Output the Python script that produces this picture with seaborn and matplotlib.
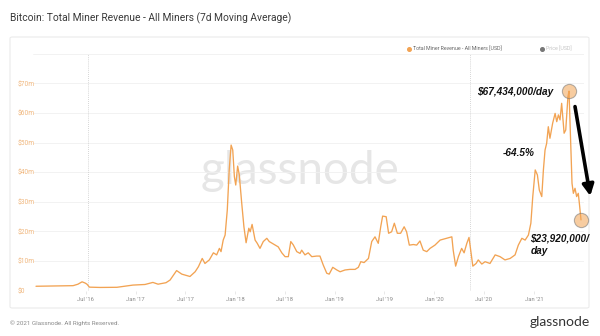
import matplotlib
matplotlib.use("Agg")
import matplotlib.pyplot as plt
from matplotlib.patches import FancyBboxPatch
from matplotlib.lines import Line2D
import pandas as pd
import seaborn as sns

# Total miner revenue, 7-day moving average, in millions of USD
dates = [
    "2016-01-01", "2016-03-11", "2016-05-16", "2016-06-03", "2016-06-18", "2016-06-29",
    "2016-07-06", "2016-07-15", "2016-08-23", "2016-10-24", "2016-12-22", "2017-02-04",
    "2017-03-05", "2017-03-24", "2017-04-22", "2017-05-07", "2017-05-31", "2017-06-19",
    "2017-07-12", "2017-07-19", "2017-08-07", "2017-08-19", "2017-09-02", "2017-09-12",
    "2017-09-28", "2017-10-13", "2017-10-25", "2017-11-04", "2017-11-10", "2017-11-18",
    "2017-11-25", "2017-12-03", "2017-12-10", "2017-12-17", "2017-12-23", "2017-12-29",
    "2018-01-03", "2018-01-10", "2018-01-16", "2018-01-25", "2018-02-02", "2018-02-10",
    "2018-02-20", "2018-02-25", "2018-03-04", "2018-03-15", "2018-03-23", "2018-04-02",
    "2018-04-14", "2018-04-27", "2018-05-06", "2018-05-15", "2018-05-27", "2018-06-08",
    "2018-06-21", "2018-07-03", "2018-07-15", "2018-07-24", "2018-08-02", "2018-08-15",
    "2018-08-27", "2018-09-02", "2018-09-14", "2018-09-26", "2018-10-09", "2018-10-27",
    "2018-11-08", "2018-11-20", "2018-12-03", "2018-12-12", "2018-12-25", "2019-01-09",
    "2019-01-21", "2019-02-08", "2019-02-26", "2019-03-17", "2019-03-29", "2019-04-07",
    "2019-04-19", "2019-05-05", "2019-05-17", "2019-05-29", "2019-06-10", "2019-06-19",
    "2019-06-26", "2019-07-09", "2019-07-18", "2019-07-29", "2019-08-08", "2019-08-19",
    "2019-08-31", "2019-09-13", "2019-09-22", "2019-10-02", "2019-10-17", "2019-10-29",
    "2019-11-10", "2019-11-22", "2019-12-05", "2019-12-17", "2020-01-04", "2020-01-23",
    "2020-02-16", "2020-03-06", "2020-03-11", "2020-03-20", "2020-03-30", "2020-04-11",
    "2020-04-20", "2020-04-30", "2020-05-08", "2020-05-15", "2020-05-22", "2020-06-03",
    "2020-06-11", "2020-06-24", "2020-07-06", "2020-07-24", "2020-08-12", "2020-08-30",
    "2020-09-17", "2020-10-06", "2020-10-24", "2020-11-05", "2020-11-18", "2020-11-30",
    "2020-12-12", "2020-12-21", "2020-12-28", "2021-01-06", "2021-01-14", "2021-01-21",
    "2021-01-30", "2021-02-05", "2021-02-11", "2021-02-17", "2021-02-23", "2021-03-01",
    "2021-03-11", "2021-03-20", "2021-03-26", "2021-04-01", "2021-04-07", "2021-04-13",
    "2021-04-22", "2021-04-28", "2021-05-06", "2021-05-10", "2021-05-16", "2021-05-21",
    "2021-05-26", "2021-06-01", "2021-06-07", "2021-06-13", "2021-06-17", "2021-06-23",
]
revenue_musd = [
    1.5, 1.6, 1.7, 2.2, 3.0, 2.6,
    2.2, 1.2, 1.1, 1.15, 1.9, 2.1,
    2.8, 2.2, 2.7, 3.6, 6.8, 5.6,
    5.0, 4.8, 6.4, 8.1, 10.9, 9.2,
    10.4, 12.8, 12.1, 14.3, 13.2, 17.1,
    18.8, 27.3, 40.8, 49.2, 47.5, 38.5,
    35.7, 42.1, 39.1, 29.5, 21.6, 16.2,
    21.1, 19.9, 22.4, 17.1, 16.0, 14.3,
    16.6, 17.7, 16.6, 16.1, 15.4, 14.8,
    12.8, 11.5, 11.5, 16.6, 15.5, 13.2,
    12.6, 13.7, 12.1, 12.8, 11.5, 11.7,
    11.7, 8.7, 5.9, 5.6, 7.9, 7.0,
    6.4, 7.0, 7.2, 7.2, 7.9, 9.8,
    9.5, 10.9, 16.6, 18.2, 16.0, 21.6,
    25.2, 25.0, 19.4, 19.9, 22.8, 19.4,
    19.4, 21.6, 19.9, 15.4, 15.6, 15.4,
    16.8, 13.7, 13.2, 14.3, 15.4, 17.1,
    17.7, 18.2, 13.7, 8.3, 11.5, 14.3,
    12.8, 16.0, 18.0, 13.2, 8.3, 9.2,
    10.4, 9.0, 9.8, 9.2, 12.1, 11.5,
    10.4, 10.9, 12.1, 15.4, 17.7, 17.1,
    18.8, 22.8, 31.8, 40.8, 39.1, 34.0,
    31.8, 40.8, 47.5, 49.8, 55.4, 51.5,
    56.6, 59.9, 57.1, 59.4, 57.7, 63.3,
    53.2, 54.3, 65.5, 67.434, 49.8, 36.3,
    32.9, 34.6, 31.8, 32.9, 29.5, 23.92,
]

halving_dates = ["2016-07-09", "2020-05-11"]
y_ticks = [0, 10, 20, 30, 40, 50, 60, 70]
y_tick_labels = ["$0", "$10m", "$20m", "$30m", "$40m", "$50m", "$60m", "$70m"]
x_ticks = ["2016-07-01", "2017-01-01", "2017-07-01", "2018-01-01", "2018-07-01",
           "2019-01-01", "2019-07-01", "2020-01-01", "2020-07-01", "2021-01-01"]
x_tick_labels = ["Jul '16", "Jan '17", "Jul '17", "Jan '18", "Jul '18",
                 "Jan '19", "Jul '19", "Jan '20", "Jul '20", "Jan '21"]

title = "Bitcoin: Total Miner Revenue - All Miners (7d Moving Average)"
series_name = "Total Miner Revenue - All Miners [USD]"
price_name = "Price [USD]"
peak_label = "$67,434,000/day"
last_label = "$23,920,000/\nday"
change_label = "-64.5%"

ORANGE = "#f2a353"
df = pd.DataFrame({"date": pd.to_datetime(dates), "revenue": revenue_musd})

sns.set_theme(style="white")
plt.rcParams["font.family"] = ["Roboto", "DejaVu Sans"]

fig = plt.figure(figsize=(6, 3.36), dpi=100)
W, H = 600.0, 336.0

# white card behind the chart
card = FancyBboxPatch((10 / W, 1 - 308 / H), 579 / W, 271 / H,
                      boxstyle="round,pad=0,rounding_size=0.004",
                      transform=fig.transFigure, facecolor="white",
                      edgecolor="#ebebeb", linewidth=0.8, zorder=-5)
fig.patches.append(card)

ax = fig.add_axes([33 / W, 1 - 290.7 / H, 551 / W, 236.8 / H])
ax.set_facecolor("none")

# faint watermark
ax.text(0.485, 0.505, "glassnode", transform=ax.transAxes, fontsize=33,
        family=["Lato", "DejaVu Sans"], color="#e6e6e6", ha="center",
        va="center", zorder=0)

for d in halving_dates:
    ax.axvline(pd.Timestamp(d), color="#c8c8c8", linestyle=(0, (1, 1.5)),
               linewidth=0.6, zorder=1)

sns.lineplot(data=df, x="date", y="revenue", ax=ax, color=ORANGE,
             linewidth=0.95, zorder=3)

ax.set_ylim(0, 80)
ax.set_xlim(pd.Timestamp("2015-12-21"), pd.Timestamp("2021-07-04"))
ax.set_yticks(y_ticks)
ax.set_yticklabels(y_tick_labels)
ax.set_xticks(pd.to_datetime(x_ticks))
ax.set_xticklabels(x_tick_labels)
for yv in y_ticks + [80]:
    ax.axhline(yv, color="#f0f0f0", linewidth=0.6, zorder=0.5)
for s in ax.spines.values():
    s.set_visible(False)
ax.set_xlabel("")
ax.set_ylabel("")
ax.tick_params(axis="y", length=0, pad=10.8, labelsize=4.8, labelcolor="#f0b77e")
for lbl in ax.get_yticklabels():
    lbl.set_horizontalalignment("left")
ax.tick_params(axis="x", length=2, width=0.5, color="#e0e0e0", pad=2.5,
               labelsize=4.2, labelcolor="#8a8a8a", bottom=True)

# highlight the peak and the latest value
peak_i = max(range(len(revenue_musd)), key=lambda i: revenue_musd[i])
last_i = len(revenue_musd) - 1
hl = df.iloc[[peak_i, last_i]]
ax.scatter(hl["date"], hl["revenue"], s=105, facecolor=ORANGE, alpha=0.55,
           edgecolor="#777777", linewidth=0.8, zorder=4, clip_on=False)

bold_it = dict(family=["Liberation Sans", "DejaVu Sans"], fontweight="bold",
               fontstyle="italic", color="#111111", fontsize=7.2)
ax.annotate(peak_label, xy=(df["date"][peak_i], revenue_musd[peak_i]),
            xytext=(-11.5, -0.8), textcoords="offset points",
            ha="right", va="center", **bold_it)
ax.annotate(last_label, xy=(df["date"][last_i], revenue_musd[last_i]),
            xytext=(-36.5, -10.0), textcoords="offset points",
            ha="left", va="top", linespacing=1.25, **bold_it)
ax.text(pd.Timestamp("2020-11-08"), 46.5, change_label, ha="center",
        va="center", **bold_it)
ax.annotate("", xy=(pd.Timestamp("2021-07-27"), 32.0),
            xytext=(pd.Timestamp("2021-06-01"), 62.2),
            arrowprops=dict(arrowstyle="-|>,head_length=0.55,head_width=0.28",
                            color="black", linewidth=2.6, shrinkA=0, shrinkB=0),
            annotation_clip=False)

# title, legend and footer
fig.text(10 / W, 1 - 18 / H, title, fontsize=7.4, color="#3a3a3a",
         ha="left", va="center")
fig.add_artist(Line2D([409 / W], [1 - 49 / H], marker="o", markersize=2.6,
                      color=ORANGE, transform=fig.transFigure))
fig.text(413 / W, 1 - 49 / H, series_name, fontsize=3.8, color="#666666",
         ha="left", va="center")
fig.add_artist(Line2D([542 / W], [1 - 49 / H], marker="o", markersize=2.6,
                      color="#777777", transform=fig.transFigure))
fig.text(545.5 / W, 1 - 49 / H, price_name, fontsize=3.8, color="#c4c4c4",
         ha="left", va="center")
fig.text(10 / W, 1 - 323 / H, "\u00a9 2021 Glassnode. All Rights Reserved.",
         fontsize=4.5, color="#8a8a8a", ha="left", va="center")
fig.text(590 / W, 1 - 322 / H, "glassnode", fontsize=10,
         family=["Lato", "DejaVu Sans"], color="#333333", ha="right",
         va="center")

fig.savefig("out.png", dpi=100, facecolor="white")
